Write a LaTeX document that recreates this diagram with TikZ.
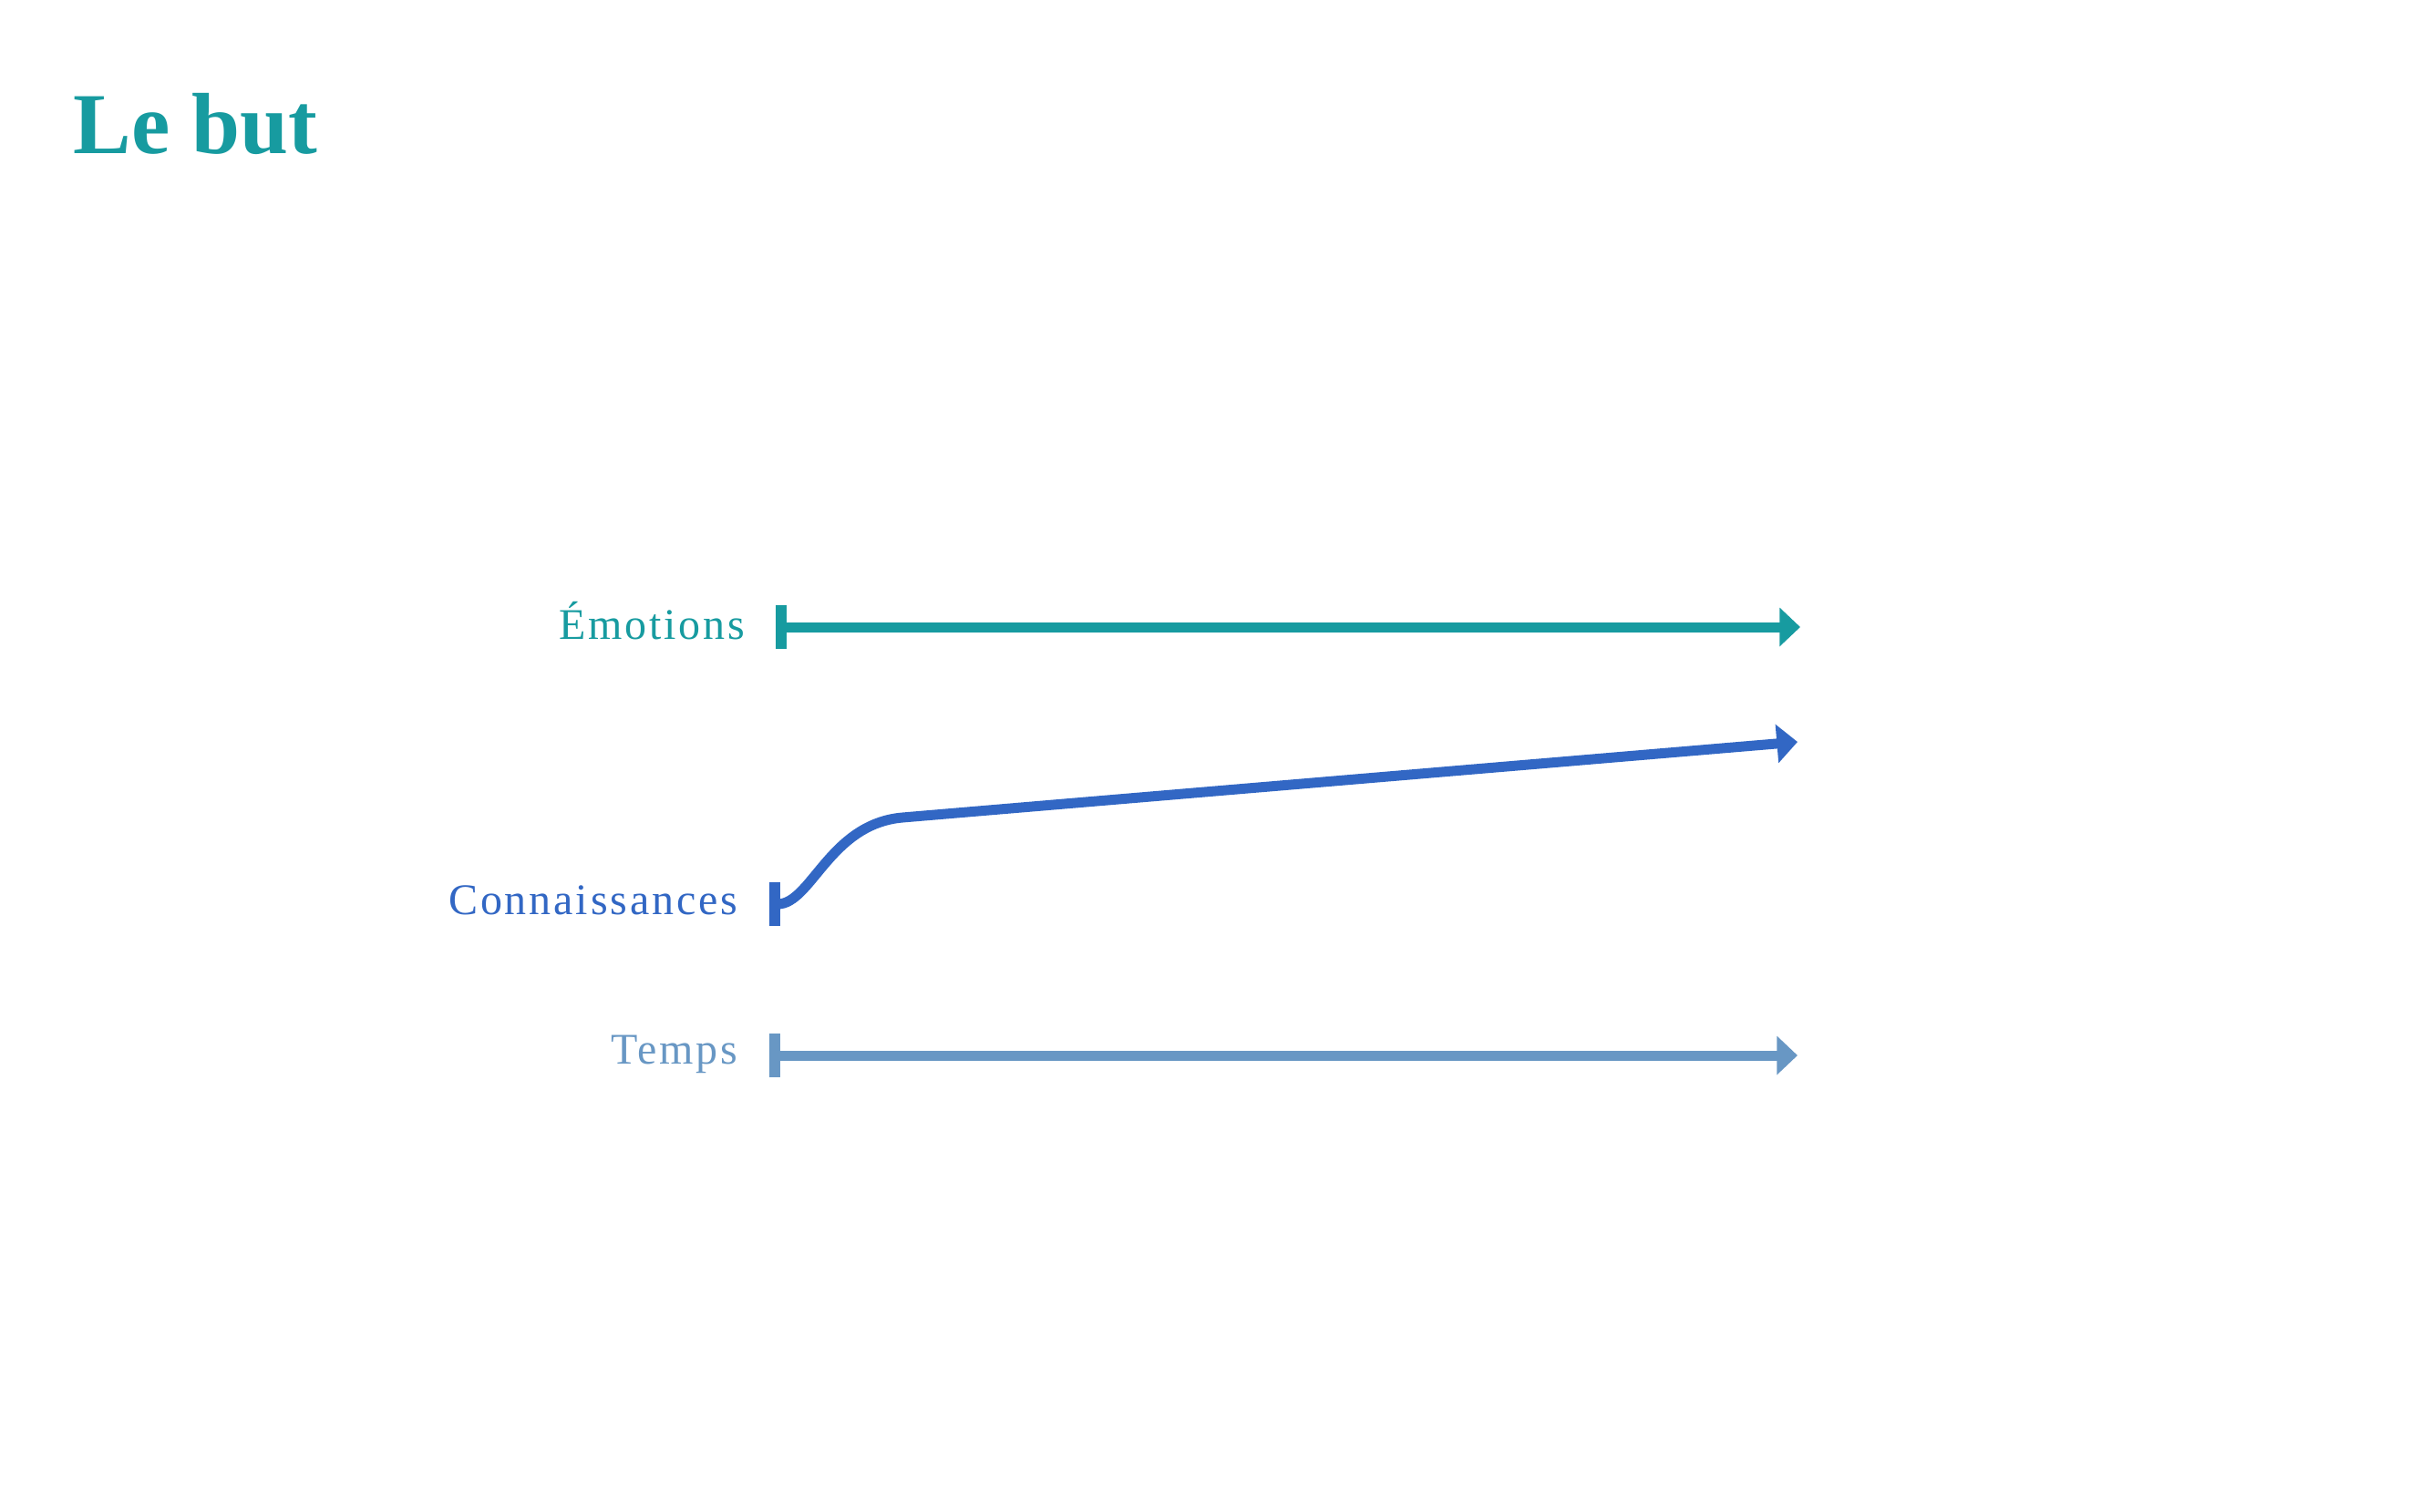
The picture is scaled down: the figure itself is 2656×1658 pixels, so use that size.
\documentclass[tikz,border=0pt]{standalone}
\usepackage{fontspec}
\setmainfont{Liberation Serif}
\usetikzlibrary{arrows.meta}
\definecolor{cEmo}{HTML}{179BA0}
\definecolor{cCon}{HTML}{3267C4}
\definecolor{cTmp}{HTML}{6897C4}
\begin{document}
\begin{tikzpicture}[x=0.3pt,y=-0.3pt,
  axisline/.style={line width=3.3pt,
    arrows={Bar[width=14.4pt,line width=3.6pt]-Triangle[length=6.8pt,width=12.4pt]}},
  lab/.style={anchor=base east, inner sep=0pt,
    font=\fontsize{14.4}{16}\selectfont\addfontfeature{LetterSpace=6}},
  ttl/.style={anchor=base west, inner sep=0pt, font=\fontsize{28.6}{32}\selectfont\bfseries}
]
\useasboundingbox[fill=white] (0,0) rectangle (2656,1658);
\node[ttl, text=cEmo] (title) at (80,168) {Le but};
\node[lab, text=cEmo] (le) at (818,701) {Émotions};
\node[lab, text=cCon] (lc) at (810,1003) {Connaissances};
\node[lab, text=cTmp] (lt) at (810,1167) {Temps};
\coordinate (e0) at (851,688);
\coordinate (e1) at (1975,688);
\coordinate (c0) at (844,992);
\coordinate (cm) at (990,897);
\coordinate (c1) at (1972,814);
\coordinate (t0) at (844,1158);
\coordinate (t1) at (1972,1158);
\draw[axisline, draw=cEmo] (e0) -- (e1);
\draw[axisline, draw=cCon] (c0) .. controls (890,992) and (910,904) .. (cm) -- (c1);
\draw[axisline, draw=cTmp] (t0) -- (t1);
\end{tikzpicture}
\end{document}
